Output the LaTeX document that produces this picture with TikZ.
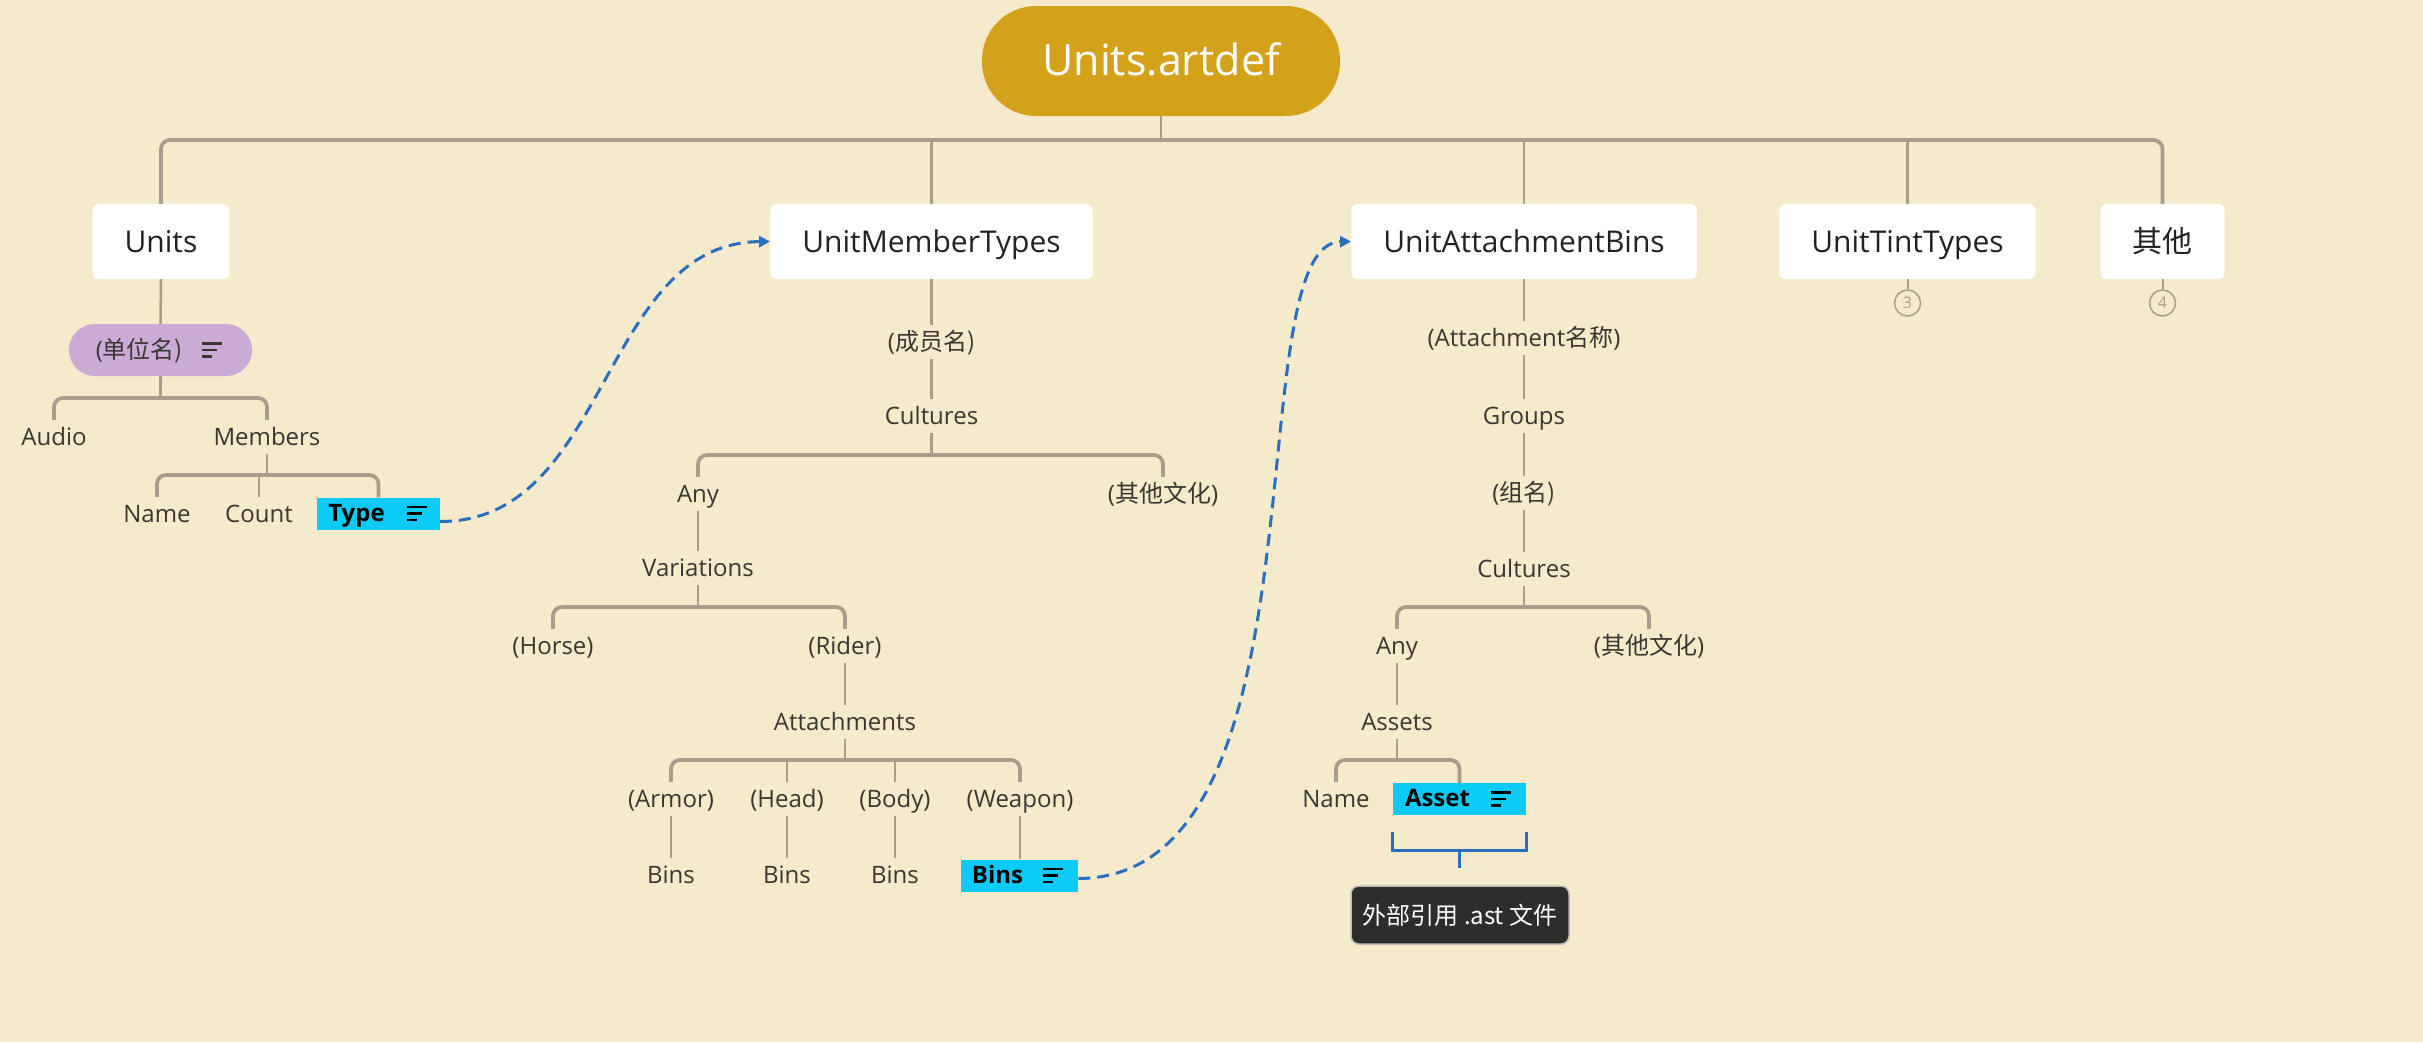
\documentclass[tikz,border=0pt]{standalone}
\usepackage{fontspec}
\setmainfont{Open Sans}
\newfontfamily\cjk{Noto Sans CJK SC}
\usetikzlibrary{arrows.meta}
\definecolor{bg}{HTML}{F5EBCC}
\definecolor{conncol}{HTML}{A69D8C}
\definecolor{rootcol}{HTML}{D4A11A}
\definecolor{pillcol}{HTML}{C9ABD6}
\definecolor{cyancol}{HTML}{0CCBF7}
\definecolor{linkcol}{HTML}{2A6EC0}
\definecolor{calloutcol}{HTML}{2E2D2B}
\definecolor{txtcol}{HTML}{3A3631}
\definecolor{darktxt}{HTML}{222222}
\newcommand\noteicon[3]{%
  \draw[iconline,#3] ([xshift=#2,yshift=6.5pt]#1) -- ++(20,0);
  \draw[iconline,#3] ([xshift=#2]#1) -- ++(15,0);
  \draw[iconline,#3] ([xshift=#2,yshift=-6.5pt]#1) -- ++(10,0);
}
\newcommand\iconspace[1]{\rule{#1}{0pt}}
\begin{document}
\begin{tikzpicture}[x=1pt,y=-1pt,
  conn/.style={draw=conncol,line width=2.5pt},
  busline/.style={draw=conncol,line width=3.75pt,rounded corners=9pt},
  lbl/.style={font=\fontsize{24}{28}\selectfont,text=txtcol,inner sep=0pt,minimum height=34pt,text height=20pt,text depth=4pt},
  topic/.style={fill=white,rounded corners=6pt,minimum height=75pt,inner xsep=32pt,inner ysep=0pt,font=\fontsize{30}{36}\selectfont,text=darktxt,text height=27pt,text depth=6pt},
  hl/.style={fill=cyancol,font=\bfseries\fontsize{24}{28}\selectfont,text=black,minimum height=32pt,inner ysep=0pt,text height=19pt,text depth=4pt},
  link/.style={draw=linkcol,line width=3pt,dash pattern=on 12pt off 7pt,-{Triangle[length=11pt,width=11pt]}},
  iconline/.style={line width=2.5pt},
  numc/.style={circle,draw=conncol,line width=1.5pt,minimum size=26pt,inner sep=0pt,font=\fontsize{16}{18}\selectfont,text=conncol},
]
\fill[bg] (0,0) rectangle (2423,1042);
\useasboundingbox (0,0) rectangle (2423,1042);

% bus levels
\coordinate (bL1) at (0,140);
\coordinate (bU1) at (0,398);
\coordinate (bU2) at (0,475);
\coordinate (bM1) at (0,455);
\coordinate (bM2) at (0,607);
\coordinate (bM3) at (0,760);

% root and level 1
\node[fill=rootcol,rounded corners=54pt,minimum width=358pt,minimum height=110pt,inner sep=0pt,text=white,font=\fontsize{43}{50}\selectfont,text height=33pt,text depth=4pt] (root) at (1161,61) {Units.artdef};
\node[topic] (units) at (161,241.5) {Units};
\node[topic] (umt) at (931.5,241.5) {UnitMemberTypes};
\node[topic] (uab) at (1524,241.5) {UnitAttachmentBins};
\node[topic] (utt) at (1907.5,241.5) {UnitTintTypes};
\node[topic] (other) at (2162.5,241.5) {\cjk 其他};
\node[numc] (n3) at (1907.5,303) {3};
\node[numc] (n4) at (2162.5,303) {4};

% Units subtree
\node[fill=pillcol,rounded corners=26pt,minimum height=52pt,inner xsep=27pt,inner ysep=0pt,font=\fontsize{24}{28}\selectfont,text=txtcol,text height=20pt,text depth=4pt] (unitname) at (160.5,350) {(\cjk 单位名)\iconspace{42pt}};
\node[lbl] (audio) at (54,437) {Audio};
\node[lbl] (members) at (267,437) {Members};
\node[lbl] (name1) at (157,514) {Name};
\node[lbl] (count) at (259,514) {Count};
\node[hl,inner xsep=11pt] (type) at (378.5,513.5) {Type\iconspace{44pt}};

% UnitMemberTypes subtree
\node[lbl] (cyname) at (931.5,342) {(\cjk 成员名)};
\node[lbl] (cult1) at (931.5,416) {Cultures};
\node[lbl] (any1) at (698,494) {Any};
\node[lbl] (oth1) at (1163,494) {({\cjk 其他文化})};
\node[lbl] (var) at (698,568) {Variations};
\node[lbl] (horse) at (553,646) {(Horse)};
\node[lbl] (rider) at (845,646) {(Rider)};
\node[lbl] (att) at (845,722) {Attachments};
\node[lbl] (armor) at (671,799) {(Armor)};
\node[lbl] (head) at (787,799) {(Head)};
\node[lbl] (body) at (895,799) {(Body)};
\node[lbl] (weapon) at (1020,799) {(Weapon)};
\node[lbl] (bins1) at (671,875) {Bins};
\node[lbl] (bins2) at (787,875) {Bins};
\node[lbl] (bins3) at (895,875) {Bins};
\node[hl,inner xsep=11pt] (bins4) at (1019.5,875.5) {Bins\iconspace{44pt}};

% UnitAttachmentBins subtree
\node[lbl] (attname) at (1524,338) {(Attachment{\cjk 名称})};
\node[lbl] (groups) at (1524,416) {Groups};
\node[lbl] (grpname) at (1524,493) {(\cjk 组名)};
\node[lbl] (cult2) at (1524,569) {Cultures};
\node[lbl] (any2) at (1397,646) {Any};
\node[lbl] (oth2) at (1649,646) {({\cjk 其他文化})};
\node[lbl] (assets) at (1397,722) {Assets};
\node[lbl] (name2) at (1336,799) {Name};
\node[hl,inner xsep=12pt] (asset) at (1459.5,799) {Asset\iconspace{44pt}};
\node[fill=calloutcol,draw=gray!55,line width=1.5pt,rounded corners=8pt,minimum width=218pt,minimum height=58pt,inner sep=0pt,text=white,font=\cjk\fontsize{24}{28}\selectfont] (callout) at (1460,915) {外部引用 .ast 文件};

% note icons
\noteicon{unitname.east}{-50pt}{draw=txtcol}
\noteicon{type.east}{-33pt}{draw=black}
\noteicon{bins4.east}{-35pt}{draw=black}
\noteicon{asset.east}{-35pt}{draw=black}

% level 1 connectors
\draw[conn] (root.south) -- (root.south |- bL1);
\draw[busline] (units.north) -- (units.north |- bL1) -- (other.north |- bL1) -- (other.north);
\draw[conn] (umt.north |- bL1) -- (umt.north);
\draw[conn] (uab.north |- bL1) -- (uab.north);
\draw[conn] (utt.north |- bL1) -- (utt.north);
\draw[conn,line width=2pt] (utt.south) -- (n3);
\draw[conn,line width=2pt] (other.south) -- (n4);

% Units connectors
\draw[conn] (units.south) -- (unitname.north);
\draw[conn] (unitname.south) -- (unitname.south |- bU1);
\draw[busline] (audio.north) -- (audio.north |- bU1) -- (members.north |- bU1) -- (members.north);
\draw[conn] (members.south) -- (members.south |- bU2);
\draw[busline] (name1.north) -- (name1.north |- bU2) -- (type.north |- bU2) -- (type.north);
\draw[conn] (count.north |- bU2) -- (count.north);

% UnitMemberTypes connectors
\draw[conn] (umt.south) -- (cyname.north);
\draw[conn] (cyname.south) -- (cult1.north);
\draw[conn] (cult1.south) -- (cult1.south |- bM1);
\draw[busline] (any1.north) -- (any1.north |- bM1) -- (oth1.north |- bM1) -- (oth1.north);
\draw[conn] (any1.south) -- (var.north);
\draw[conn] (var.south) -- (var.south |- bM2);
\draw[busline] (horse.north) -- (horse.north |- bM2) -- (rider.north |- bM2) -- (rider.north);
\draw[conn] (rider.south) -- (att.north);
\draw[conn] (att.south) -- (att.south |- bM3);
\draw[busline] (armor.north) -- (armor.north |- bM3) -- (weapon.north |- bM3) -- (weapon.north);
\draw[conn] (head.north |- bM3) -- (head.north);
\draw[conn] (body.north |- bM3) -- (body.north);
\draw[conn] (armor.south) -- (bins1.north);
\draw[conn] (head.south) -- (bins2.north);
\draw[conn] (body.south) -- (bins3.north);
\draw[conn] (weapon.south) -- (weapon.south |- bins4.north);

% UnitAttachmentBins connectors
\draw[conn] (uab.south) -- (attname.north);
\draw[conn] (attname.south) -- (groups.north);
\draw[conn] (groups.south) -- (grpname.north);
\draw[conn] (grpname.south) -- (cult2.north);
\draw[conn] (cult2.south) -- (cult2.south |- bM2);
\draw[busline] (any2.north) -- (any2.north |- bM2) -- (oth2.north |- bM2) -- (oth2.north);
\draw[conn] (any2.south) -- (assets.north);
\draw[conn] (assets.south) -- (assets.south |- bM3);
\draw[busline] (name2.north) -- (name2.north |- bM3) -- (asset.north |- bM3) -- (asset.north);

% bracket to callout
\draw[draw=linkcol,line width=3pt] ([yshift=-17pt]asset.south west) -- ([yshift=-35pt]asset.south west) -- ([yshift=-35pt]asset.south east) -- ([yshift=-17pt]asset.south east);
\draw[draw=linkcol,line width=3pt] ([yshift=-35pt]asset.south) -- ([yshift=-53pt]asset.south);

% dashed links
\draw[link] ([yshift=-8pt]type.east) .. controls (610,522) and (600,243) .. (umt.west);
\draw[link] ([yshift=-3pt]bins4.east) .. controls (1335,878) and (1235,243) .. (uab.west);
\end{tikzpicture}
\end{document}
